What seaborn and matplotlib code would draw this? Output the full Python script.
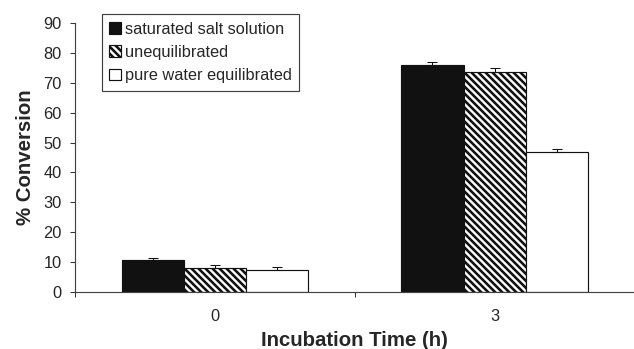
import matplotlib
matplotlib.use("Agg")
import matplotlib.pyplot as plt
import seaborn as sns
import pandas as pd
import numpy as np
from matplotlib.patches import Patch

times = ["0", "3"]
series = ["saturated salt solution", "unequilibrated", "pure water equilibrated"]
sat_vals = [10.8, 76.0]
uneq_vals = [8.0, 73.7]
pure_vals = [7.3, 47.0]
sat_err = [0.8, 0.8]
uneq_err = [1.0, 1.3]
pure_err = [1.2, 1.0]

fills = ["#111111", "white", "white"]
hatches = ["", "\\\\\\\\", ""]

sns.set_style("white")
plt.rcParams["font.family"] = ["Liberation Sans", "DejaVu Sans"]
plt.rcParams["hatch.linewidth"] = 2.2
plt.rcParams["hatch.color"] = "#111111"

rows = []
for s, vals, errs in zip(series, [sat_vals, uneq_vals, pure_vals], [sat_err, uneq_err, pure_err]):
    for t, v, e in zip(times, vals, errs):
        rows.append({"time": t, "series": s, "value": v, "err": e})
df = pd.DataFrame(rows)

DPI = 84
fig = plt.figure(figsize=(634 / DPI, 349 / DPI), dpi=DPI)
ax = fig.add_axes([75 / 634, 1 - 292.3 / 349, 559.5 / 634, (292.3 - 22.7) / 349])

sns.barplot(data=df, x="time", y="value", hue="series", order=times, hue_order=series,
            palette=fills, width=0.667, errorbar=None, ax=ax, legend=False,
            edgecolor="#111111", linewidth=1.0, saturation=1)

bar_conts = list(ax.containers)
for i, cont in enumerate(bar_conts):
    sub = df[df["series"] == series[i]].set_index("time").loc[times]
    for bar, (v, e) in zip(cont.patches, zip(sub["value"], sub["err"])):
        bar.set_facecolor(fills[i])
        bar.set_hatch(hatches[i])
        bar.set_edgecolor("#111111")
        cx = bar.get_x() + bar.get_width() / 2
        ax.errorbar([cx], [v], yerr=[[0], [e]], fmt="none", ecolor="#111111",
                    elinewidth=0.9, capsize=4, capthick=0.9, zorder=5)

ax.set_xlim(-0.5, 1.5)
ax.set_ylim(0, 90)
ax.set_yticks(np.arange(0, 91, 10))
ax.tick_params(axis="y", which="major", direction="out", length=4.5, width=0.9,
               color="#333333", labelsize=14, pad=7, left=True)
ax.set_xticks([0, 1])
ax.set_xticklabels(times)
ax.tick_params(axis="x", which="major", length=0, labelsize=14, pad=14)
ax.set_xticks([-0.5, 0.5], minor=True)
ax.tick_params(axis="x", which="minor", direction="out", length=4, width=0.9,
               color="#333333", bottom=True)

for sp in ["top", "right"]:
    ax.spines[sp].set_visible(False)
for sp in ["left", "bottom"]:
    ax.spines[sp].set_color("#444444")
    ax.spines[sp].set_linewidth(1.0)

ax.set_xlabel("Incubation Time (h)", fontsize=17.5, fontweight="bold", labelpad=6)
ax.set_ylabel("% Conversion", fontsize=17.5, fontweight="bold", labelpad=7)

handles = [Patch(facecolor=fills[i], edgecolor="#111111", hatch=hatches[i], linewidth=1.0)
           for i in range(3)]
leg = fig.legend(handles, series, loc="upper left",
                 bbox_to_anchor=(102 / 634, 1 - 14.5 / 349), fontsize=14,
                 frameon=True, fancybox=False, handlelength=0.72, handleheight=0.72,
                 handletextpad=0.25, borderpad=0.45, labelspacing=0.5,
                 borderaxespad=0)
leg.get_frame().set_edgecolor("#111111")
leg.get_frame().set_linewidth(1.0)

fig.savefig("out.png", dpi=DPI)
